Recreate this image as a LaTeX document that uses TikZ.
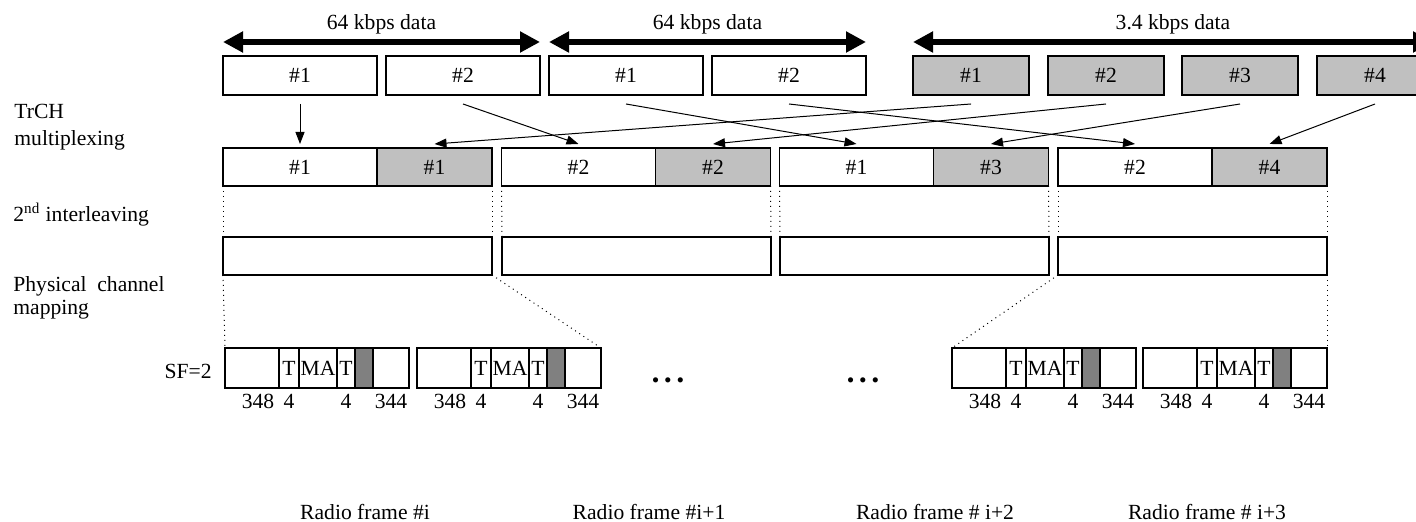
\documentclass[tikz,border=0pt]{standalone}
\usepackage{fontspec}
\setmainfont{Liberation Serif}
\usetikzlibrary{positioning,arrows.meta}
\definecolor{boxgrey}{HTML}{C0C0C0}
\definecolor{slotgrey}{HTML}{808080}
\tikzset{
  blk/.style={draw, line width=0.7pt, inner sep=0pt, outer sep=0pt, minimum height=19.5pt},
  data64/.style={blk, minimum width=77pt},
  data34/.style={blk, fill=boxgrey, minimum width=58pt},
  mux/.style={blk, minimum height=19pt, minimum width=77pt},
  muxg/.style={mux, fill=boxgrey, minimum width=57.5pt},
  frm/.style={blk, minimum height=19pt, minimum width=134.5pt},
  seg/.style={blk, minimum height=20pt},
  slotL/.style={seg, minimum width=27pt},
  slotT/.style={seg, minimum width=10pt},
  slotMA/.style={seg, minimum width=19pt},
  slotTb/.style={seg, minimum width=9pt},
  slotG/.style={seg, minimum width=9pt, fill=slotgrey},
  slotR/.style={seg, minimum width=18pt},
  guide/.style={dotted, line width=0.5pt},
  conn/.style={-{Triangle[length=6pt,width=4.5pt]}, line width=0.5pt},
  span/.style={{Triangle[length=10pt,width=10pt]}-{Triangle[length=10pt,width=10pt]}, line width=3.2pt},
  lbl/.style={inner sep=0pt, align=left, anchor=west},
  num/.style={inner sep=0pt}
}
\begin{document}
\begin{tikzpicture}[x=0.5pt, y=-0.5pt, font=\fontsize{10.8pt}{13pt}\selectfont]
\useasboundingbox (0,0) rectangle (1416,522);
\clip (0,0) rectangle (1416,522);

\node[data64] (a1) at (300,75.5) {\#1};
\node[data64] (a2) at (463,75.5) {\#2};
\node[data64] (b1) at (626,75.5) {\#1};
\node[data64] (b2) at (789,75.5) {\#2};
\node[data34] (c1) at (971,75.5) {\#1};
\node[data34] (c2) at (1106,75.5) {\#2};
\node[data34] (c3) at (1240,75.5) {\#3};
\node[data34] (c4) at (1375,75.5) {\#4};

\draw[span] ([yshift=7pt]a1.north west) -- ([yshift=7pt]a2.north east) node[midway, yshift=9pt] {64 kbps data};
\draw[span] ([yshift=7pt]b1.north west) -- ([yshift=7pt]b2.north east) node[midway, yshift=9pt] {64 kbps data};
\draw[span] ([yshift=7pt]c1.north west) -- ([yshift=7pt]c4.north east) node[midway, yshift=9pt] {3.4 kbps data};

\node[mux] (m1) at (300,167) {\#1};
\node[muxg, right=0pt of m1] (m1g) {\#1};
\node[mux] (m2) at (578.5,167) {\#2};
\node[muxg, right=0pt of m2] (m2g) {\#2};
\node[mux] (m3) at (856.5,167) {\#1};
\node[muxg, right=0pt of m3] (m3g) {\#3};
\node[mux] (m4) at (1135,167) {\#2};
\node[muxg, right=0pt of m4] (m4g) {\#4};

\draw[conn] ([yshift=-4.5pt]a1.south) -- ([yshift=2pt]m1.north);
\draw[conn] ([yshift=-4.5pt]a2.south) -- ([yshift=2pt]m2.north);
\draw[conn] ([yshift=-4.5pt]b1.south) -- ([yshift=2pt]m3.north);
\draw[conn] ([yshift=-4.5pt]b2.south) -- ([yshift=2pt]m4.north);
\draw[conn] ([yshift=-4.5pt]c1.south) -- ([yshift=2pt]m1g.north);
\draw[conn] ([yshift=-4.5pt]c2.south) -- ([yshift=2pt]m2g.north);
\draw[conn] ([yshift=-4.5pt]c3.south) -- ([yshift=2pt]m3g.north);
\draw[conn] ([yshift=-4.5pt]c4.south) -- ([yshift=2pt]m4g.north);

\node[frm] (i1) at (357.5,256) {};
\node[frm] (i2) at (636.5,256) {};
\node[frm] (i3) at (914.5,256) {};
\node[frm] (i4) at (1192.5,256) {};

\draw[guide] (m1.south west) -- (i1.north west);
\draw[guide] (m1g.south east) -- (i1.north east);
\draw[guide] (m2.south west) -- (i2.north west);
\draw[guide] (m2g.south east) -- (i2.north east);
\draw[guide] (m3.south west) -- (i3.north west);
\draw[guide] (m3g.south east) -- (i3.north east);
\draw[guide] (m4.south west) -- (i4.north west);
\draw[guide] (m4g.south east) -- (i4.north east);

\node[slotL] (s1a) at (252,368) {};
\node[slotT, right=0pt of s1a] (s1t) {T};
\node[slotMA, right=0pt of s1t] (s1m) {MA};
\node[slotTb, right=0pt of s1m] (s1u) {T};
\node[slotG, right=0pt of s1u] (s1g) {};
\node[slotR, right=0pt of s1g] (s1b) {};

\node[slotL] (s2a) at (444,368) {};
\node[slotT, right=0pt of s2a] (s2t) {T};
\node[slotMA, right=0pt of s2t] (s2m) {MA};
\node[slotTb, right=0pt of s2m] (s2u) {T};
\node[slotG, right=0pt of s2u] (s2g) {};
\node[slotR, right=0pt of s2g] (s2b) {};

\node[slotL] (s3a) at (979,368) {};
\node[slotT, right=0pt of s3a] (s3t) {T};
\node[slotMA, right=0pt of s3t] (s3m) {MA};
\node[slotTb, right=0pt of s3m] (s3u) {T};
\node[slotG, right=0pt of s3u] (s3g) {};
\node[slotR, right=0pt of s3g] (s3b) {};

\node[slotL] (s4a) at (1170,368) {};
\node[slotT, right=0pt of s4a] (s4t) {T};
\node[slotMA, right=0pt of s4t] (s4m) {MA};
\node[slotTb, right=0pt of s4m] (s4u) {T};
\node[slotG, right=0pt of s4u] (s4g) {};
\node[slotR, right=0pt of s4g] (s4b) {};

\draw[guide] (i1.south west) -- (s1a.north west);
\draw[guide] (i1.south east) -- (s2b.north east);
\draw[guide] (i4.south west) -- (s3a.north west);
\draw[guide] (i4.south east) -- (s4b.north east);

\node[num] (n1a) at (258,401) {348};
\node[num] (n1b) at (289,401) {4};
\node[num] (n1c) at (346,401) {4};
\node[num] (n1d) at (391,401) {344};
\node[num] (n2a) at (450,401) {348};
\node[num] (n2b) at (481,401) {4};
\node[num] (n2c) at (538,401) {4};
\node[num] (n2d) at (583,401) {344};
\node[num] (n3a) at (985,401) {348};
\node[num] (n3b) at (1016,401) {4};
\node[num] (n3c) at (1073,401) {4};
\node[num] (n3d) at (1118,401) {344};
\node[num] (n4a) at (1176,401) {348};
\node[num] (n4b) at (1207,401) {4};
\node[num] (n4c) at (1264,401) {4};
\node[num] (n4d) at (1309,401) {344};

\node[num] (gap1) at (668,383) {•\hspace{2.4pt}•\hspace{2.4pt}•};
\node[num] (gap2) at (863,383) {•\hspace{2.4pt}•\hspace{2.4pt}•};

\node[lbl, font=\fontsize{10.8pt}{13.5pt}\selectfont] (trch) at (14,127) {TrCH\\multiplexing};
\node[lbl] (ilv) at (13,215) {2\textsuperscript{nd} interleaving};
\node[lbl, font=\fontsize{10.8pt}{11.5pt}\selectfont] (phy) at (13,298) {Physical\ \ channel\\mapping};
\node[lbl, anchor=east] (sf) at (212,371) {SF=2};

\node (rf1) at (365,512) {Radio frame \#i};
\node (rf2) at (649,512) {Radio frame \#i+1};
\node (rf3) at (935,512) {Radio frame \# i+2};
\node (rf4) at (1207,512) {Radio frame \# i+3};
\end{tikzpicture}
\end{document}
